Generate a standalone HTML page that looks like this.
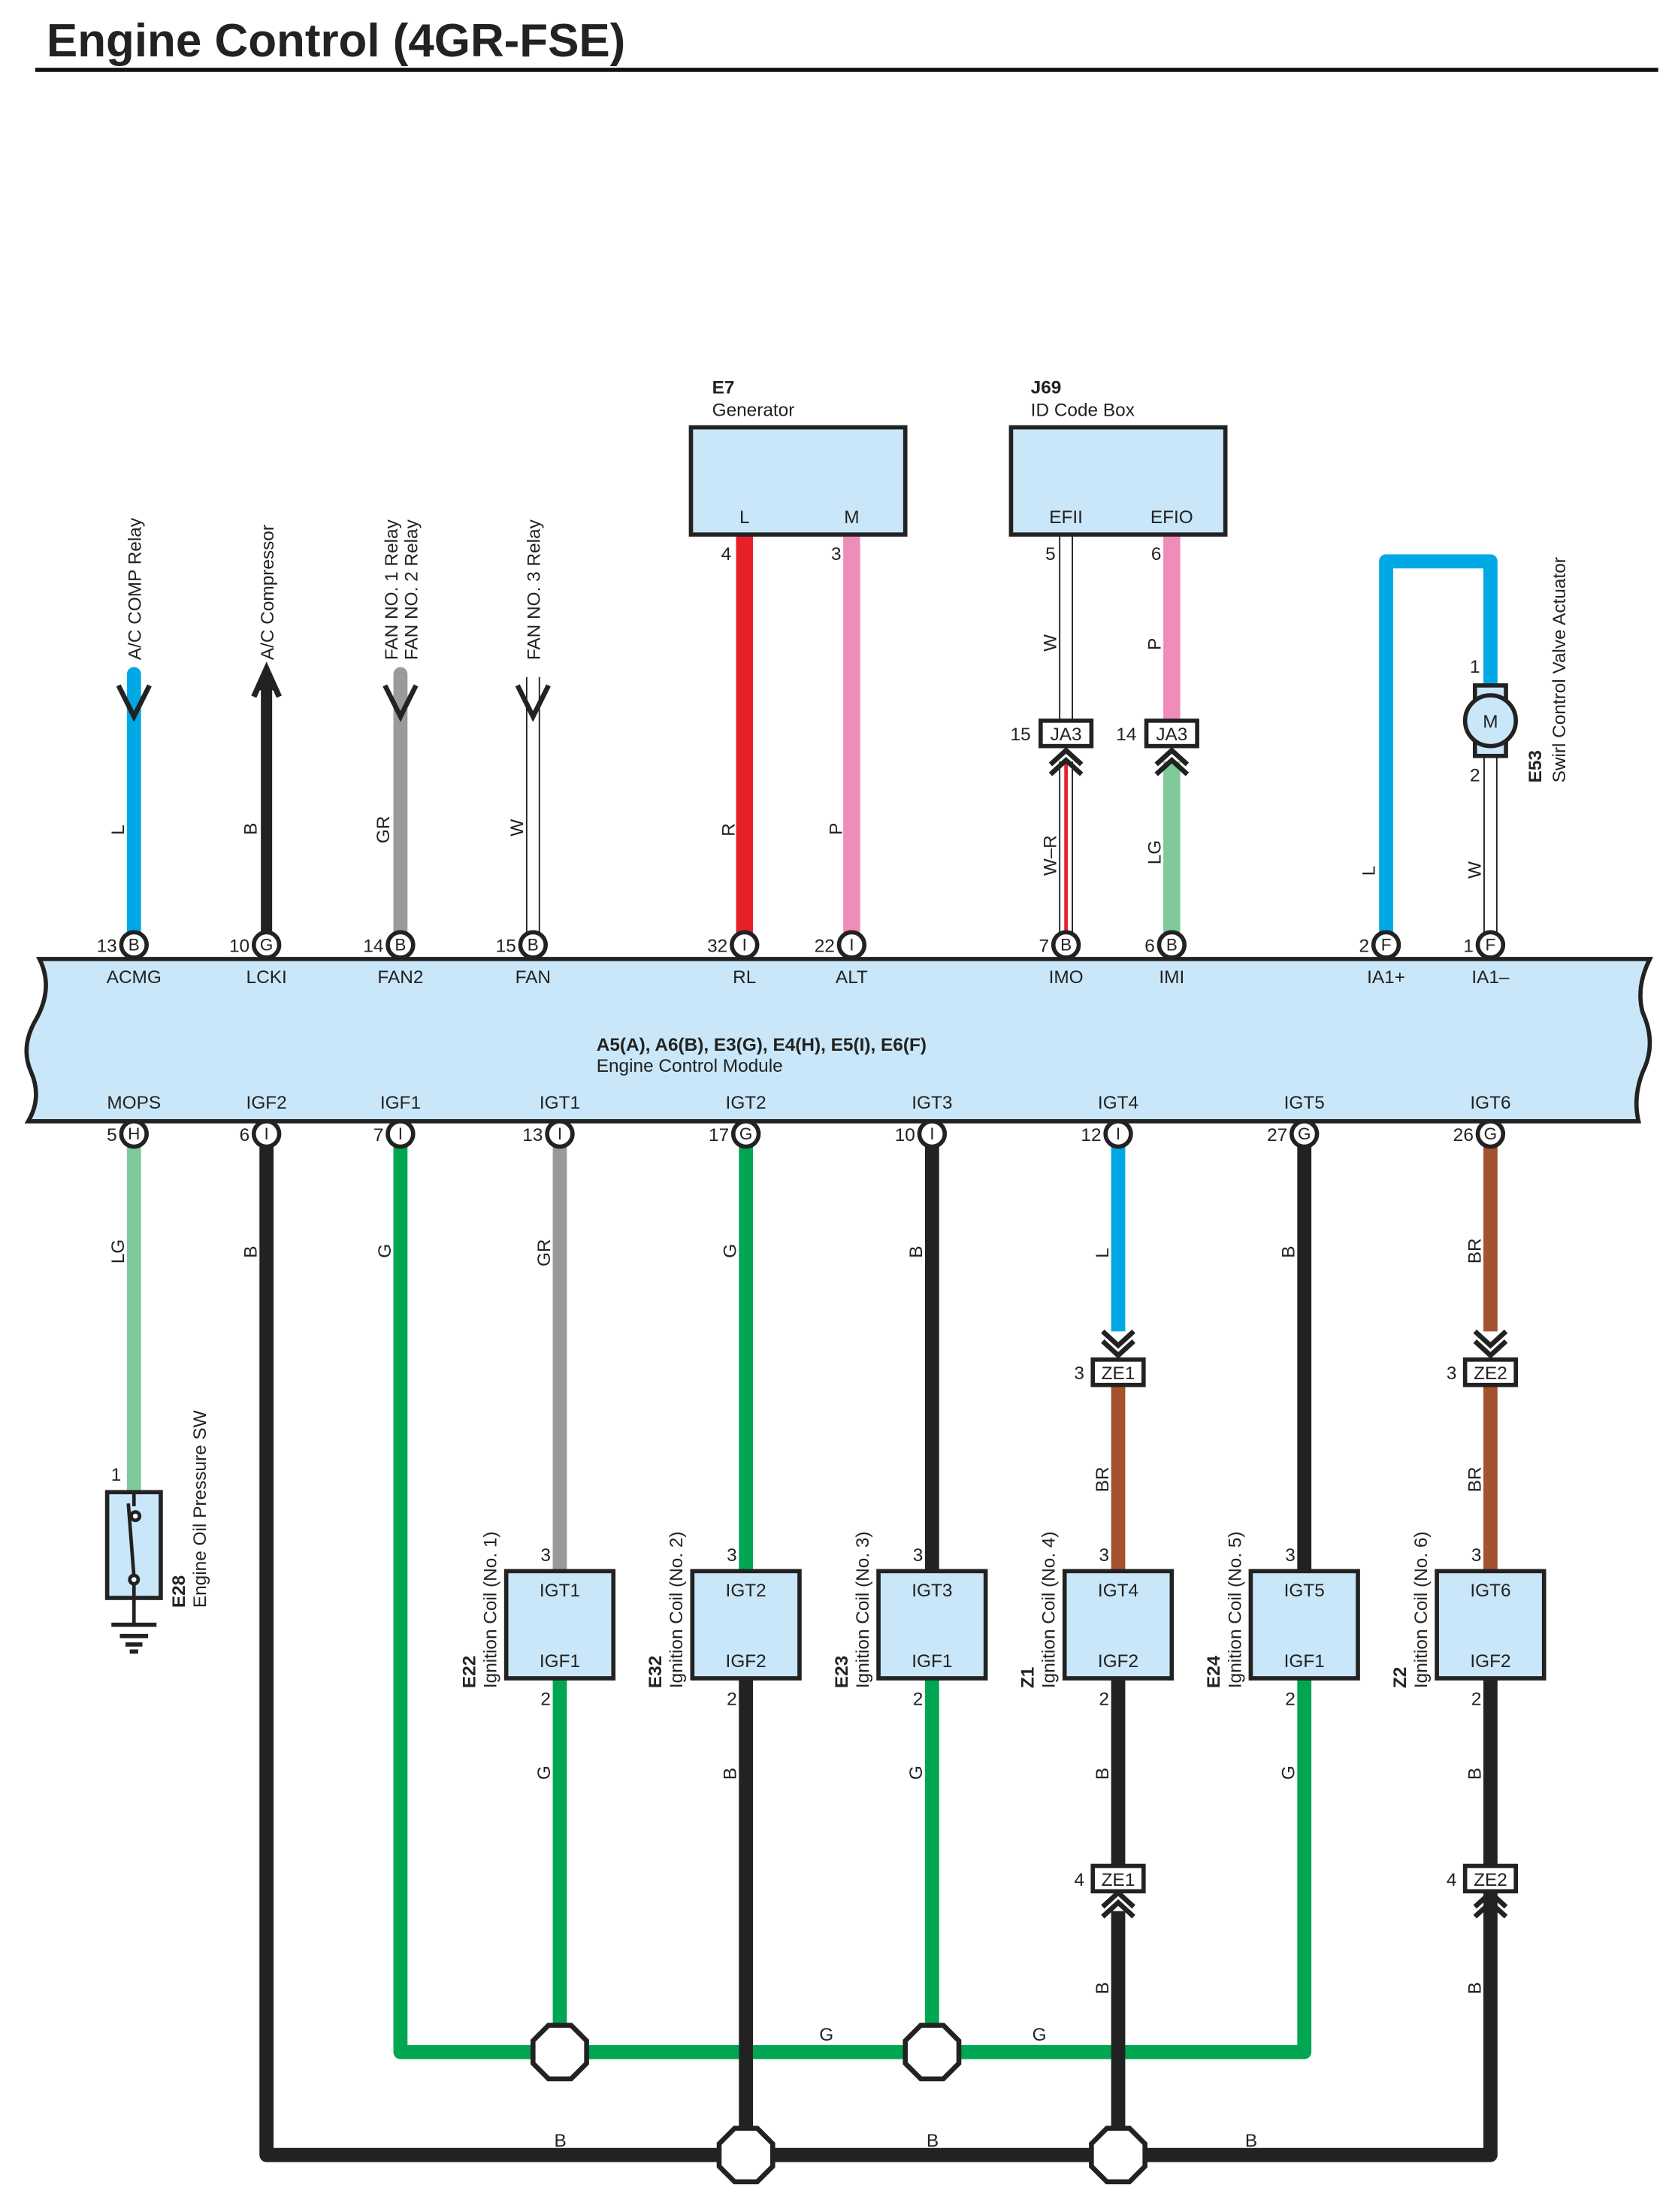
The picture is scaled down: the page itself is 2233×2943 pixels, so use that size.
<!DOCTYPE html>
<html><head><meta charset="utf-8"><style>
html,body{margin:0;padding:0;background:#fff;}
svg{display:block;}
text{font-family:"Liberation Sans",sans-serif;fill:#222;}
</style></head><body>
<svg width="2233" height="2943" viewBox="0 0 1190 1568.4" preserveAspectRatio="none" xmlns="http://www.w3.org/2000/svg">
<text x="33" y="40" font-size="33" font-weight="bold" fill="#000">Engine Control (4GR-FSE)</text>
<line x1="25" y1="49.5" x2="1176" y2="49.5" stroke="#111" stroke-width="3"/>

<g stroke-linecap="butt" fill="none">
<line x1="95" y1="478" x2="95" y2="662" stroke="#00a8e6" stroke-width="10" stroke-linecap="round"/>
<line x1="189" y1="485" x2="189" y2="662" stroke="#222" stroke-width="8"/>
<line x1="284" y1="478" x2="284" y2="662" stroke="#999a9d" stroke-width="10" stroke-linecap="round"/>
<line x1="378" y1="480" x2="378" y2="662" stroke="#222" stroke-width="10"/>
<line x1="378" y1="478" x2="378" y2="662" stroke="#fff" stroke-width="8"/>
<line x1="528" y1="380" x2="528" y2="662" stroke="#e8202a" stroke-width="12"/>
<line x1="604" y1="380" x2="604" y2="662" stroke="#f08cb8" stroke-width="12"/>
<line x1="756" y1="380" x2="756" y2="512" stroke="#222" stroke-width="10"/>
<line x1="756" y1="380" x2="756" y2="512" stroke="#fff" stroke-width="8"/>
<line x1="831" y1="380" x2="831" y2="512" stroke="#f08cb8" stroke-width="12"/>
<line x1="756" y1="540" x2="756" y2="662" stroke="#222" stroke-width="10"/>
<line x1="756" y1="540" x2="756" y2="662" stroke="#fff" stroke-width="8"/>
<line x1="756" y1="540" x2="756" y2="662" stroke="#e8202a" stroke-width="2.5"/>
<line x1="831" y1="540" x2="831" y2="662" stroke="#80c99a" stroke-width="12"/>
<polyline points="983,662 983,398 1057,398 1057,490" stroke="#00a8e6" stroke-width="10" stroke-linejoin="round"/>
<line x1="1057" y1="530" x2="1057" y2="662" stroke="#222" stroke-width="10"/>
<line x1="1057" y1="530" x2="1057" y2="662" stroke="#fff" stroke-width="8"/>
</g>
<g fill="none" stroke="#222" stroke-width="3.5">
<polyline points="84,486 95,508 106,486"/>
<polyline points="273,486 284,508 295,486"/>
<polyline points="367,486 378,508 389,486"/>
</g>
<polygon points="189,472 180,492 189,487 198,492" fill="#222"/>
<polyline points="180,494 189,474 198,494" fill="none" stroke="#222" stroke-width="4"/>
<g font-size="13">
<text transform="translate(100,468) rotate(-90)">A/C COMP Relay</text>
<text transform="translate(194,468) rotate(-90)">A/C Compressor</text>
<text transform="translate(282,468) rotate(-90)">FAN NO. 1 Relay</text>
<text transform="translate(296,468) rotate(-90)">FAN NO. 2 Relay</text>
<text transform="translate(383,468) rotate(-90)">FAN NO. 3 Relay</text>
<text transform="translate(88,592) rotate(-90)">L</text>
<text transform="translate(182,592) rotate(-90)">B</text>
<text transform="translate(276,598) rotate(-90)">GR</text>
<text transform="translate(371,593) rotate(-90)">W</text>
<text transform="translate(521,593) rotate(-90)">R</text>
<text transform="translate(597,592) rotate(-90)">P</text>
<text transform="translate(749,462) rotate(-90)">W</text>
<text transform="translate(823,461) rotate(-90)">P</text>
<text transform="translate(749,621) rotate(-90)">W–R</text>
<text transform="translate(823,613) rotate(-90)">LG</text>
<text transform="translate(975,621) rotate(-90)">L</text>
<text transform="translate(1050,623) rotate(-90)">W</text>
<text x="515" y="397" text-anchor="middle">4</text>
<text x="593" y="397" text-anchor="middle">3</text>
<text x="745" y="397" text-anchor="middle">5</text>
<text x="820" y="397" text-anchor="middle">6</text>
<text x="1046" y="477" text-anchor="middle">1</text>
<text x="1046" y="554" text-anchor="middle">2</text>
</g>
<rect x="490" y="303" width="152" height="76" fill="#c9e7f8" stroke="#222" stroke-width="3"/>
<rect x="717" y="303" width="152" height="76" fill="#c9e7f8" stroke="#222" stroke-width="3"/>
<g font-size="13">
<text x="505" y="279" font-weight="bold">E7</text>
<text x="505" y="295">Generator</text>
<text x="731" y="279" font-weight="bold">J69</text>
<text x="731" y="295">ID Code Box</text>
<text x="528" y="371" text-anchor="middle">L</text>
<text x="604" y="371" text-anchor="middle">M</text>
<text x="756" y="371" text-anchor="middle">EFII</text>
<text x="831" y="371" text-anchor="middle">EFIO</text>
</g>
<g font-size="13">
<rect x="738" y="511" width="36" height="18" fill="#fff" stroke="#222" stroke-width="3"/>
<text x="756" y="525" text-anchor="middle">JA3</text>
<text x="731" y="525" text-anchor="end">15</text>
<rect x="813" y="511" width="36" height="18" fill="#fff" stroke="#222" stroke-width="3"/>
<text x="831" y="525" text-anchor="middle">JA3</text>
<text x="806" y="525" text-anchor="end">14</text>
</g>
<g fill="none" stroke="#222" stroke-width="3.5">
<polyline points="745,542 756,532 767,542"/><polyline points="745,549 756,539 767,549"/>
<polyline points="820,542 831,532 842,542"/><polyline points="820,549 831,539 842,549"/>
</g>
<rect x="1046" y="486" width="22" height="50" fill="#c9e7f8" stroke="#222" stroke-width="3"/>
<circle cx="1057" cy="511" r="18" fill="#c9e7f8" stroke="#222" stroke-width="3"/>
<text x="1057" y="516" font-size="13" text-anchor="middle">M</text>
<text transform="translate(1093,555) rotate(-90)" font-size="13" font-weight="bold">E53</text>
<text transform="translate(1110,555) rotate(-90)" font-size="13">Swirl Control Valve Actuator</text>

<path d="M28,680 L1170,680 Q1160,700 1165,718 Q1175,740 1165,760 Q1158,778 1162,795 L20,795 Q30,778 22,760 Q14,742 26,722 Q38,700 28,680 Z" fill="#c9e7f8" stroke="#222" stroke-width="3"/>
<g font-size="13" text-anchor="middle">
<text x="95" y="697">ACMG</text><text x="189" y="697">LCKI</text><text x="284" y="697">FAN2</text><text x="378" y="697">FAN</text>
<text x="528" y="697">RL</text><text x="604" y="697">ALT</text><text x="756" y="697">IMO</text><text x="831" y="697">IMI</text>
<text x="983" y="697">IA1+</text><text x="1057" y="697">IA1–</text>
<text x="95" y="786">MOPS</text><text x="189" y="786">IGF2</text><text x="284" y="786">IGF1</text><text x="397" y="786">IGT1</text>
<text x="529" y="786">IGT2</text><text x="661" y="786">IGT3</text><text x="793" y="786">IGT4</text><text x="925" y="786">IGT5</text><text x="1057" y="786">IGT6</text>
</g>
<text x="423" y="745" font-size="13" font-weight="bold">A5(A), A6(B), E3(G), E4(H), E5(I), E6(F)</text>
<text x="423" y="760" font-size="13">Engine Control Module</text>

<g fill="none" stroke-linejoin="round">
<line x1="95" y1="812" x2="95" y2="1058" stroke="#80c99a" stroke-width="10"/>
<polyline points="189,812 189,1528 1057,1528 1057,1340" stroke="#222" stroke-width="10"/>
<polyline points="284,812 284,1455 925,1455 925,1190" stroke="#00a651" stroke-width="10"/>
<line x1="397" y1="812" x2="397" y2="1114" stroke="#999a9d" stroke-width="10"/>
<line x1="397" y1="1190" x2="397" y2="1455" stroke="#00a651" stroke-width="10"/>
<line x1="529" y1="812" x2="529" y2="1114" stroke="#00a651" stroke-width="10"/>
<line x1="529" y1="1190" x2="529" y2="1528" stroke="#222" stroke-width="10"/>
<line x1="661" y1="812" x2="661" y2="1114" stroke="#222" stroke-width="10"/>
<line x1="661" y1="1190" x2="661" y2="1455" stroke="#00a651" stroke-width="10"/>
<line x1="793" y1="812" x2="793" y2="944" stroke="#00a8e6" stroke-width="10"/>
<line x1="793" y1="982" x2="793" y2="1114" stroke="#a5532e" stroke-width="10"/>
<line x1="793" y1="1190" x2="793" y2="1322" stroke="#222" stroke-width="10"/>
<line x1="793" y1="1355" x2="793" y2="1528" stroke="#222" stroke-width="10"/>
<line x1="925" y1="812" x2="925" y2="1114" stroke="#222" stroke-width="10"/>
<line x1="1057" y1="812" x2="1057" y2="944" stroke="#a5532e" stroke-width="10"/>
<line x1="1057" y1="982" x2="1057" y2="1114" stroke="#a5532e" stroke-width="10"/>
<line x1="1057" y1="1190" x2="1057" y2="1322" stroke="#222" stroke-width="10"/>
</g>
<g fill="#fff" stroke="#222" stroke-width="3.5">
<polygon points="389,1436 405,1436 416,1447 416,1463 405,1474 389,1474 378,1463 378,1447"/>
<polygon points="653,1436 669,1436 680,1447 680,1463 669,1474 653,1474 642,1463 642,1447"/>
<polygon points="521,1509 537,1509 548,1520 548,1536 537,1547 521,1547 510,1536 510,1520"/>
<polygon points="785,1509 801,1509 812,1520 812,1536 801,1547 785,1547 774,1536 774,1520"/>
</g>
<g fill="none" stroke="#222" stroke-width="3.5">
<polyline points="782,944 793,954 804,944"/><polyline points="782,951 793,961 804,951"/>
<polyline points="1046,944 1057,954 1068,944"/><polyline points="1046,951 1057,961 1068,951"/>
<polyline points="782,1352 793,1342 804,1352"/><polyline points="782,1359 793,1349 804,1359"/>
<polyline points="1046,1352 1057,1342 1068,1352"/><polyline points="1046,1359 1057,1349 1068,1359"/>
</g>
<g font-size="13">
<rect x="775" y="964" width="36" height="18" fill="#fff" stroke="#222" stroke-width="3"/><text x="793" y="978" text-anchor="middle">ZE1</text><text x="769" y="978" text-anchor="end">3</text>
<rect x="1039" y="964" width="36" height="18" fill="#fff" stroke="#222" stroke-width="3"/><text x="1057" y="978" text-anchor="middle">ZE2</text><text x="1033" y="978" text-anchor="end">3</text>
<rect x="775" y="1323" width="36" height="18" fill="#fff" stroke="#222" stroke-width="3"/><text x="793" y="1337" text-anchor="middle">ZE1</text><text x="769" y="1337" text-anchor="end">4</text>
<rect x="1039" y="1323" width="36" height="18" fill="#fff" stroke="#222" stroke-width="3"/><text x="1057" y="1337" text-anchor="middle">ZE2</text><text x="1033" y="1337" text-anchor="end">4</text>
</g>
<g fill="#c9e7f8" stroke="#222" stroke-width="3">
<rect x="359" y="1114" width="76" height="76"/><rect x="491" y="1114" width="76" height="76"/><rect x="623" y="1114" width="76" height="76"/>
<rect x="755" y="1114" width="76" height="76"/><rect x="887" y="1114" width="76" height="76"/><rect x="1019" y="1114" width="76" height="76"/>
</g>
<g font-size="13" text-anchor="middle">
<text x="397" y="1132">IGT1</text><text x="397" y="1182">IGF1</text>
<text x="529" y="1132">IGT2</text><text x="529" y="1182">IGF2</text>
<text x="661" y="1132">IGT3</text><text x="661" y="1182">IGF1</text>
<text x="793" y="1132">IGT4</text><text x="793" y="1182">IGF2</text>
<text x="925" y="1132">IGT5</text><text x="925" y="1182">IGF1</text>
<text x="1057" y="1132">IGT6</text><text x="1057" y="1182">IGF2</text>
<text x="387" y="1107">3</text><text x="519" y="1107">3</text><text x="651" y="1107">3</text><text x="783" y="1107">3</text><text x="915" y="1107">3</text><text x="1047" y="1107">3</text>
<text x="387" y="1209">2</text><text x="519" y="1209">2</text><text x="651" y="1209">2</text><text x="783" y="1209">2</text><text x="915" y="1209">2</text><text x="1047" y="1209">2</text>
</g>
<g font-size="13">
<text transform="translate(337,1197) rotate(-90)" font-weight="bold">E22</text><text transform="translate(352,1197) rotate(-90)">Ignition Coil (No. 1)</text>
<text transform="translate(469,1197) rotate(-90)" font-weight="bold">E32</text><text transform="translate(484,1197) rotate(-90)">Ignition Coil (No. 2)</text>
<text transform="translate(601,1197) rotate(-90)" font-weight="bold">E23</text><text transform="translate(616,1197) rotate(-90)">Ignition Coil (No. 3)</text>
<text transform="translate(733,1197) rotate(-90)" font-weight="bold">Z1</text><text transform="translate(748,1197) rotate(-90)">Ignition Coil (No. 4)</text>
<text transform="translate(865,1197) rotate(-90)" font-weight="bold">E24</text><text transform="translate(880,1197) rotate(-90)">Ignition Coil (No. 5)</text>
<text transform="translate(997,1197) rotate(-90)" font-weight="bold">Z2</text><text transform="translate(1012,1197) rotate(-90)">Ignition Coil (No. 6)</text>
<text transform="translate(131,1140) rotate(-90)" font-weight="bold">E28</text><text transform="translate(146,1140) rotate(-90)">Engine Oil Pressure SW</text>
<text transform="translate(88,896) rotate(-90)">LG</text>
<text transform="translate(182,892) rotate(-90)">B</text>
<text transform="translate(277,892) rotate(-90)">G</text>
<text transform="translate(390,898) rotate(-90)">GR</text>
<text transform="translate(522,892) rotate(-90)">G</text>
<text transform="translate(654,892) rotate(-90)">B</text>
<text transform="translate(786,892) rotate(-90)">L</text>
<text transform="translate(918,892) rotate(-90)">B</text>
<text transform="translate(1050,896) rotate(-90)">BR</text>
<text transform="translate(786,1058) rotate(-90)">BR</text>
<text transform="translate(1050,1058) rotate(-90)">BR</text>
<text transform="translate(390,1262) rotate(-90)">G</text>
<text transform="translate(522,1262) rotate(-90)">B</text>
<text transform="translate(654,1262) rotate(-90)">G</text>
<text transform="translate(786,1262) rotate(-90)">B</text>
<text transform="translate(918,1262) rotate(-90)">G</text>
<text transform="translate(1050,1262) rotate(-90)">B</text>
<text transform="translate(786,1414) rotate(-90)">B</text>
<text transform="translate(1050,1414) rotate(-90)">B</text>
<text x="581" y="1447">G</text><text x="732" y="1447">G</text>
<text x="393" y="1522">B</text><text x="657" y="1522">B</text><text x="883" y="1522">B</text>
<text x="86" y="1050" text-anchor="end">1</text>
</g>
<rect x="76" y="1058" width="38" height="75" fill="#c9e7f8" stroke="#222" stroke-width="3"/>
<g stroke="#222" stroke-width="2.5" fill="none">
<line x1="95" y1="1058" x2="95" y2="1068"/>
<line x1="91" y1="1066" x2="95" y2="1118"/>
<circle cx="96" cy="1075" r="3" fill="#fff"/>
<circle cx="95" cy="1120" r="3" fill="#fff"/>
<line x1="95" y1="1123" x2="95" y2="1151"/>
<line x1="79" y1="1152" x2="111" y2="1152" stroke-width="3"/>
<line x1="85" y1="1160" x2="105" y2="1160" stroke-width="3"/>
<line x1="89" y1="1166" x2="101" y2="1166" stroke-width="3"/>
<line x1="92" y1="1171" x2="98" y2="1171" stroke-width="3"/>
</g>

<g font-size="13">
<g fill="#fff" stroke="#222" stroke-width="3">
<circle cx="95" cy="670" r="9"/><circle cx="189" cy="670" r="9"/><circle cx="284" cy="670" r="9"/><circle cx="378" cy="670" r="9"/>
<circle cx="528" cy="670" r="9"/><circle cx="604" cy="670" r="9"/><circle cx="756" cy="670" r="9"/><circle cx="831" cy="670" r="9"/>
<circle cx="983" cy="670" r="9"/><circle cx="1057" cy="670" r="9"/>
<circle cx="95" cy="804" r="9"/><circle cx="189" cy="804" r="9"/><circle cx="284" cy="804" r="9"/><circle cx="397" cy="804" r="9"/>
<circle cx="529" cy="804" r="9"/><circle cx="661" cy="804" r="9"/><circle cx="793" cy="804" r="9"/><circle cx="925" cy="804" r="9"/><circle cx="1057" cy="804" r="9"/>
</g>
<g text-anchor="middle" font-size="12">
<text x="95" y="674">B</text><text x="189" y="674">G</text><text x="284" y="674">B</text><text x="378" y="674">B</text>
<text x="528" y="674">I</text><text x="604" y="674">I</text><text x="756" y="674">B</text><text x="831" y="674">B</text>
<text x="983" y="674">F</text><text x="1057" y="674">F</text>
<text x="95" y="808">H</text><text x="189" y="808">I</text><text x="284" y="808">I</text><text x="397" y="808">I</text>
<text x="529" y="808">G</text><text x="661" y="808">I</text><text x="793" y="808">I</text><text x="925" y="808">G</text><text x="1057" y="808">G</text>
</g>
<g text-anchor="end">
<text x="83" y="675">13</text><text x="177" y="675">10</text><text x="272" y="675">14</text><text x="366" y="675">15</text>
<text x="516" y="675">32</text><text x="592" y="675">22</text><text x="744" y="675">7</text><text x="819" y="675">6</text>
<text x="971" y="675">2</text><text x="1045" y="675">1</text>
<text x="83" y="809">5</text><text x="177" y="809">6</text><text x="272" y="809">7</text><text x="385" y="809">13</text>
<text x="517" y="809">17</text><text x="649" y="809">10</text><text x="781" y="809">12</text><text x="913" y="809">27</text><text x="1045" y="809">26</text>
</g>
</g>
</svg>
</body></html>
